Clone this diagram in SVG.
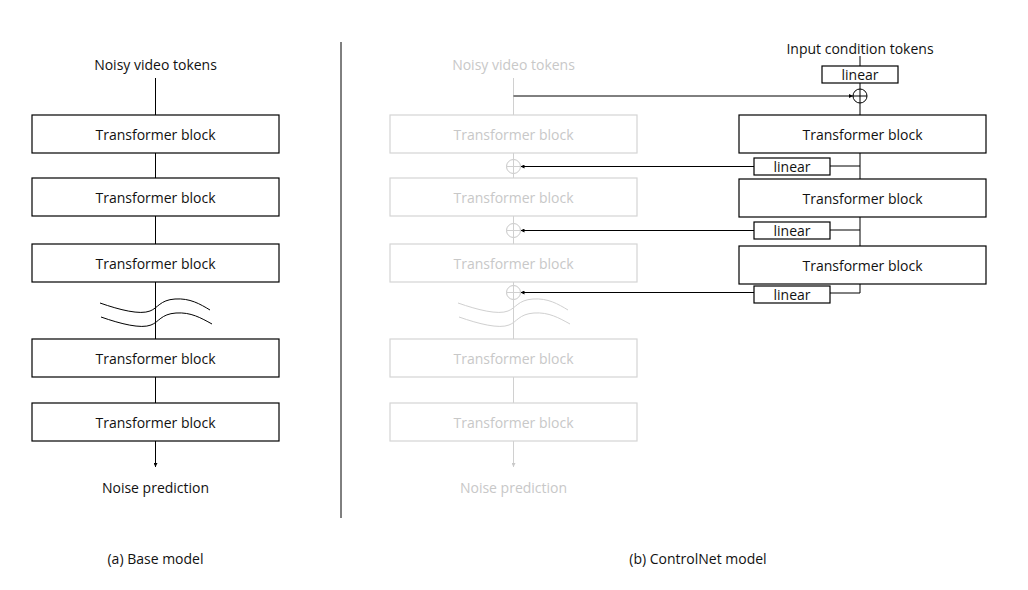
<svg xmlns="http://www.w3.org/2000/svg" width="1028" height="590" viewBox="0 0 1028 590">
<defs>
<style>
text{font-family:"Open Sans","Noto Sans","Liberation Sans",sans-serif;font-size:14px;text-anchor:middle;dominant-baseline:central;fill:#111}
.box{fill:#fff;stroke:#000;stroke-width:1.2}
.gbox{fill:#fff;stroke:#d4d4d4;stroke-width:1.2}
.ln{stroke:#000;stroke-width:1;fill:none}
.gln{stroke:#d0d0d0;stroke-width:1;fill:none}
text.gt{fill:#c8c8c8}
.wave{stroke:#000;stroke-width:1;fill:none}
.gwave{stroke:#d0d0d0;stroke-width:1;fill:none}
</style>
<marker id="ah" viewBox="0 0 6 6" refX="6" refY="3" markerWidth="4" markerHeight="4" orient="auto"><path d="M0,0L6,3L0,6z" fill="#000"/></marker>
<marker id="gah" viewBox="0 0 6 6" refX="6" refY="3" markerWidth="4" markerHeight="4" orient="auto"><path d="M0,0L6,3L0,6z" fill="#c8c8c8"/></marker>
</defs>
<rect width="1028" height="590" fill="#fff"/>

<g id="connectors">
<!-- base model -->
<line class="ln" x1="155.5" y1="78" x2="155.5" y2="115"/>
<line class="ln" x1="155.5" y1="153" x2="155.5" y2="178"/>
<line class="ln" x1="155.5" y1="216" x2="155.5" y2="244"/>
<line class="ln" x1="155.5" y1="282" x2="155.5" y2="339"/>
<line class="ln" x1="155.5" y1="377" x2="155.5" y2="403"/>
<line class="ln" x1="155.5" y1="441" x2="155.5" y2="467" marker-end="url(#ah)"/>
<!-- faded column -->
<line class="gln" x1="513.5" y1="78" x2="513.5" y2="115"/>
<line class="gln" x1="513.5" y1="153" x2="513.5" y2="178"/>
<line class="gln" x1="513.5" y1="216" x2="513.5" y2="244"/>
<line class="gln" x1="513.5" y1="282" x2="513.5" y2="339"/>
<line class="gln" x1="513.5" y1="377" x2="513.5" y2="403"/>
<line class="gln" x1="513.5" y1="441" x2="513.5" y2="467" marker-end="url(#gah)"/>
<!-- control branch -->
<line class="ln" x1="513.5" y1="96" x2="853" y2="96" marker-end="url(#ah)"/>
<line class="ln" x1="860" y1="56" x2="860" y2="66"/>
<line class="ln" x1="860" y1="83" x2="860" y2="89"/>
<line class="ln" x1="860" y1="103" x2="860" y2="115"/>
<polyline class="ln" points="860,153 860,179"/>
<polyline class="ln" points="860,217 860,246"/>
<polyline class="ln" points="860,166 830,166"/>
<polyline class="ln" points="860,230 830,230"/>
<polyline class="ln" points="860,284 860,293 830,293"/>
<line class="ln" x1="754" y1="166.5" x2="520.5" y2="166.5" marker-end="url(#ah)"/>
<line class="ln" x1="754" y1="230.5" x2="520.5" y2="230.5" marker-end="url(#ah)"/>
<line class="ln" x1="754" y1="292.5" x2="520.5" y2="292.5" marker-end="url(#ah)"/>
</g>

<line x1="341" y1="42" x2="341" y2="518" stroke="#000" stroke-width="1"/>

<g id="base-model">
<text x="155.5" y="64">Noisy video tokens</text>
<g id="b1"><rect class="box" x="32" y="115" width="247" height="38"/><text x="155.5" y="134">Transformer block</text></g>
<g id="b2"><rect class="box" x="32" y="178" width="247" height="38"/><text x="155.5" y="197">Transformer block</text></g>
<g id="b3"><rect class="box" x="32" y="244" width="247" height="38"/><text x="155.5" y="263">Transformer block</text></g>
<g id="b4"><rect class="box" x="32" y="339" width="247" height="38"/><text x="155.5" y="358">Transformer block</text></g>
<g id="b5"><rect class="box" x="32" y="403" width="247" height="38"/><text x="155.5" y="422">Transformer block</text></g>
<g id="break-a">
<path class="wave" d="M100,303 C120,310 140,315 150,311 C158,308 160,300 175,299 C190,298 200,304 210,310"/>
<path class="wave" d="M101,317 C121,324 141,329 151,325 C159,322 161,314 176,313 C191,312 201,318 212,324"/>
</g>
<text x="155.5" y="487">Noise prediction</text>
<text x="155.5" y="558">(a) Base model</text>
</g>

<g id="faded-base">
<text class="gt" x="513.5" y="64">Noisy video tokens</text>
<g id="g1"><rect class="gbox" x="390" y="115" width="247" height="38"/><text class="gt" x="513.5" y="134">Transformer block</text></g>
<g id="g2"><rect class="gbox" x="390" y="178" width="247" height="38"/><text class="gt" x="513.5" y="197">Transformer block</text></g>
<g id="g3"><rect class="gbox" x="390" y="244" width="247" height="38"/><text class="gt" x="513.5" y="263">Transformer block</text></g>
<g id="g4"><rect class="gbox" x="390" y="339" width="247" height="38"/><text class="gt" x="513.5" y="358">Transformer block</text></g>
<g id="g5"><rect class="gbox" x="390" y="403" width="247" height="38"/><text class="gt" x="513.5" y="422">Transformer block</text></g>
<g id="break-b">
<path class="gwave" d="M458,303 C478,310 498,315 508,311 C516,308 518,300 533,299 C548,298 558,304 568,310"/>
<path class="gwave" d="M459,317 C479,324 499,329 509,325 C517,322 519,314 534,313 C549,312 559,318 570,324"/>
</g>
<g id="add1"><circle cx="513.5" cy="166.5" r="7" fill="#fff" stroke="#c8c8c8"/><path class="gln" d="M506.5,166.5H520.5M513.5,159.5V173.5"/></g>
<g id="add2"><circle cx="513.5" cy="230.5" r="7" fill="#fff" stroke="#c8c8c8"/><path class="gln" d="M506.5,230.5H520.5M513.5,223.5V237.5"/></g>
<g id="add3"><circle cx="513.5" cy="292.5" r="7" fill="#fff" stroke="#c8c8c8"/><path class="gln" d="M506.5,292.5H520.5M513.5,285.5V299.5"/></g>
<text class="gt" x="513.5" y="487">Noise prediction</text>
</g>

<g id="control">
<text x="860" y="48">Input condition tokens</text>
<g id="lin0"><rect class="box" x="822" y="66" width="76" height="17"/><text x="860" y="74.5">linear</text></g>
<g id="add0"><circle cx="860" cy="96" r="7" fill="#fff" stroke="#000"/><path class="ln" d="M853,96H867M860,89V103"/></g>
<g id="c1"><rect class="box" x="739" y="115" width="247" height="38"/><text x="862.5" y="134">Transformer block</text></g>
<g id="c2"><rect class="box" x="739" y="179" width="247" height="38"/><text x="862.5" y="198">Transformer block</text></g>
<g id="c3"><rect class="box" x="739" y="246" width="247" height="38"/><text x="862.5" y="265">Transformer block</text></g>
<g id="lin1"><rect class="box" x="754" y="158" width="76" height="17"/><text x="792" y="166.5">linear</text></g>
<g id="lin2"><rect class="box" x="754" y="222" width="76" height="17"/><text x="792" y="230.5">linear</text></g>
<g id="lin3"><rect class="box" x="754" y="286" width="76" height="17"/><text x="792" y="294.5">linear</text></g>
<text x="698" y="558">(b) ControlNet model</text>
</g>
</svg>
